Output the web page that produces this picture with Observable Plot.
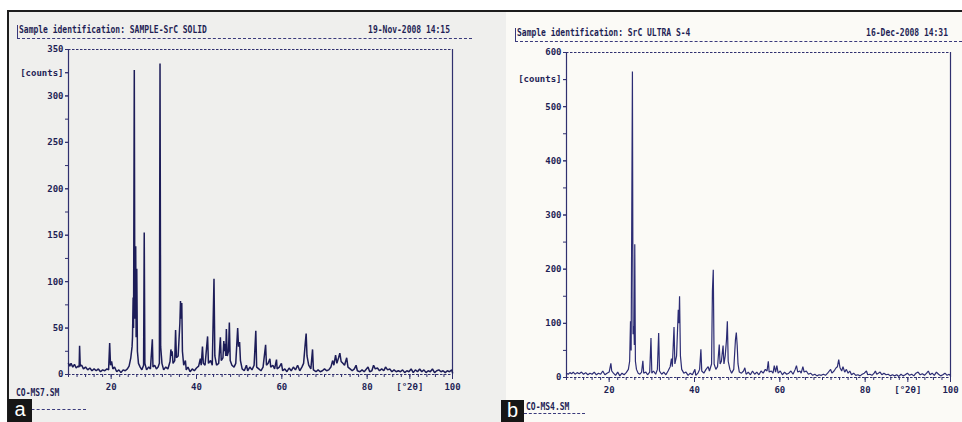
<!DOCTYPE html>
<html>
<head>
<meta charset="utf-8">
<script src="https://cdn.jsdelivr.net/npm/d3@7"></script>
<script src="https://cdn.jsdelivr.net/npm/@observablehq/plot@0.6"></script>
<style>
  html, body { margin: 0; padding: 0; background: #ffffff; }
  #wrap { position: relative; width: 962px; height: 422px; overflow: hidden; background: #ffffff; }
  .abs { position: absolute; }
  .mono { font-family: "DejaVu Sans Mono", monospace; font-weight: bold; font-size: 8px; color: #1f1f55; white-space: nowrap; line-height: 8px; transform-origin: left center; transform: scaleY(1.25); }
  .monoR { transform-origin: right center; }
  .dash { position: absolute; height: 0; border-top: 1px dashed #3a3a7c; }
  .vbar { position: absolute; width: 1px; background: #3a3a7c; }
  .tag { position: absolute; background: #161616; color: #ffffff; font-family: "Liberation Sans", Arial, sans-serif; font-size: 20px; line-height: 20px; text-align: center; }
  svg { position: absolute; top: 0; }
</style>
</head>
<body>
<div id="wrap">
  <div class="abs" style="left:8px;top:11px;width:498px;height:411px;background:#efefed"></div>
  <div class="abs" style="left:506px;top:11px;width:456px;height:411px;background:#fbfaf6"></div>
  <div class="abs" style="left:8px;top:10px;width:954px;height:2px;background:#1d1d1d"></div>
  <div class="abs" style="left:7px;top:10px;width:2px;height:412px;background:#1d1d1d"></div>
</div>
<script>
// ---------- data: panel a (SAMPLE-SrC SOLID) ----------
const aTheta = [10.0,10.3,10.6,11.0,11.4,11.8,12.2,12.5,12.6,12.75,13.1,13.5,14.0,14.5,15.0,15.5,16.0,16.5,17.0,17.5,18.0,18.5,19.0,19.4,19.65,19.85,20.1,20.4,20.8,21.3,21.8,22.3,22.8,23.3,23.8,24.2,24.6,24.9,25.0,25.15,25.25,25.42,25.55,25.75,25.85,26.0,26.15,26.4,26.8,27.2,27.6,27.75,27.9,28.3,28.8,29.2,29.65,29.8,30.2,30.6,31.0,31.3,31.45,31.6,31.9,32.3,32.8,33.3,33.8,34.0,34.15,34.3,34.5,34.9,35.1,35.3,35.7,36.1,36.25,36.4,36.55,36.7,37.0,37.4,37.6,38.0,38.5,39.0,39.5,40.0,40.5,40.9,41.1,41.4,41.6,42.0,42.6,42.8,43.3,43.7,44.1,44.3,44.7,45.2,45.6,45.8,46.2,46.4,46.55,46.7,46.85,47.0,47.2,47.5,47.7,47.9,48.3,48.8,49.2,49.65,49.85,50.1,50.3,50.7,51.2,51.7,52.0,52.5,53.0,53.5,53.9,54.1,54.6,55.1,55.6,56.2,56.4,56.8,57.2,57.4,57.9,58.3,58.75,58.9,59.4,59.9,60.2,60.7,61.2,61.7,62.2,62.7,63.2,63.7,64.2,64.7,65.1,65.5,65.7,65.9,66.3,66.8,67.2,67.4,68.0,68.5,69.0,69.5,70.0,70.5,71.0,71.5,71.9,72.2,72.6,72.9,73.3,73.6,73.9,74.3,74.7,75.2,75.5,76.0,76.5,77.0,77.4,77.7,78.3,78.8,79.3,80.2,80.6,81.1,81.5,81.9,82.4,82.9,83.4,83.9,84.3,84.8,85.3,85.8,86.3,86.8,87.3,87.8,88.3,88.8,89.3,89.8,90.3,90.8,91.3,91.8,92.3,92.8,93.3,93.8,94.3,94.8,95.3,95.8,96.3,96.8,97.3,97.8,98.3,98.8,99.3,99.8,100.0];
const aCounts = [12,9,12,8,11,7,9,8,31,9,10,6,8,5,7,4,6,4,6,3,5,4,6,5,34,10,14,6,8,3,5,2,5,4,6,9,18,30,40,83,50,328,60,138,40,114,25,12,8,5,10,153,12,5,8,6,38,8,10,6,8,12,335,30,12,5,8,6,14,27,20,25,12,15,48,18,20,55,79,60,77,25,10,15,5,8,3,6,4,7,9,17,10,30,12,10,41,12,15,10,103,20,10,12,40,15,18,36,25,33,20,49,20,25,56,15,10,8,12,50,30,35,15,6,4,10,4,8,5,10,47,8,6,4,8,32,10,12,17,8,10,6,16,6,8,12,4,6,3,7,4,8,5,10,4,8,12,34,44,20,10,6,27,5,3,5,3,4,6,4,5,8,15,10,21,12,18,23,14,12,10,18,8,6,4,6,10,4,3,5,3,8,3,4,10,6,7,4,6,4,8,5,6,3,5,3,4,3,5,2,4,3,6,2,5,3,6,3,5,2,4,3,6,2,4,5,3,4,2,4,3,5,2];

// ---------- data: panel b (SrC ULTRA S-4) ----------
const bTheta = [10.0,10.4,10.8,11.2,11.6,12.0,12.5,13.0,13.5,14.0,14.5,15.0,15.5,16.0,16.5,17.0,17.5,18.0,18.5,19.0,19.5,20.0,20.4,20.6,21.0,21.5,22.0,22.5,23.0,23.5,24.0,24.5,24.8,25.0,25.15,25.45,25.6,25.8,25.9,26.0,26.15,26.4,26.8,27.2,27.6,27.9,28.1,28.6,29.0,29.5,29.8,30.0,30.4,30.9,31.3,31.6,31.8,32.3,32.8,33.3,33.8,34.3,34.6,34.8,35.2,35.4,35.8,36.2,36.35,36.5,36.7,37.0,37.5,38.0,38.5,39.0,39.5,40.1,40.3,40.8,41.2,41.5,41.7,42.2,42.7,43.2,43.5,44.0,44.2,44.4,44.6,45.0,45.4,45.8,46.0,46.3,46.7,46.9,47.2,47.5,47.7,47.9,48.3,48.7,49.2,49.6,49.8,50.0,50.2,50.5,51.0,51.5,51.8,52.1,52.6,53.1,53.6,54.1,54.6,55.1,55.6,56.1,56.6,57.0,57.3,57.5,58.0,58.4,58.7,59.0,59.3,59.6,60.1,60.6,61.1,61.6,62.1,62.6,63.1,63.6,63.9,64.2,64.7,65.0,65.4,65.7,66.2,66.7,67.2,67.7,68.2,68.7,69.2,69.7,70.2,70.7,71.2,71.6,71.9,72.2,72.7,73.2,73.5,73.8,74.1,74.5,74.8,75.2,75.6,76.0,76.4,76.8,77.3,77.8,78.3,78.8,79.3,79.8,80.3,80.6,81.1,81.6,82.1,82.4,82.7,83.1,83.5,83.9,84.4,84.9,85.4,85.9,86.4,86.9,87.4,87.9,88.4,88.9,89.4,89.9,90.4,90.9,91.4,91.9,92.4,92.9,93.4,93.9,94.4,94.8,95.2,95.7,96.2,96.7,97.2,97.7,98.2,98.7,99.2,99.7,100.0];
const bCounts = [8,6,9,7,10,6,9,7,10,6,9,5,8,6,10,5,8,6,12,5,8,10,26,12,8,4,10,3,8,5,9,15,30,104,50,565,80,95,60,246,30,15,8,6,10,31,8,10,5,10,73,8,12,6,15,82,12,6,10,5,12,20,35,20,93,25,40,125,100,150,40,15,8,10,4,8,5,15,4,8,15,52,12,8,15,20,12,25,160,199,25,15,20,61,25,30,59,25,40,70,104,30,15,8,15,70,83,60,25,10,8,12,18,6,10,5,12,6,10,5,12,8,15,12,30,10,12,8,22,10,22,8,12,5,10,6,8,12,6,15,22,10,12,8,20,10,12,6,8,4,6,3,5,4,6,4,8,12,15,8,12,18,20,33,18,12,20,10,15,8,12,5,8,4,5,3,6,8,12,5,6,4,8,12,6,8,10,5,8,5,6,3,5,3,5,2,6,3,5,8,4,6,3,8,10,5,7,4,8,12,5,8,4,10,6,3,5,8,4,6,3];

// ---------- axes / labels ----------
const xMajor = [20, 40, 60, 80, 100];
const xUnitAt = 90;
const xUnitLabel = "[°2θ]";
const yMajorA = [0, 50, 100, 150, 200, 250, 300, 350];
const yMajorB = [0, 100, 200, 300, 400, 500, 600];
const yUnitAtA = 325, yUnitAtB = 550;
const yUnitLabel = "[counts]";
const headerA = "Sample identification: SAMPLE-SrC SOLID";
const dateA = "19-Nov-2008 14:15";
const headerB = "Sample identification: SrC ULTRA S-4";
const dateB = "16-Dec-2008 14:31";
const footerA = "CO-MS7.SM";
const footerB = "CO-MS4.SM";
const panelTags = ["a", "b"];

const axisColor = "#30306f";
const textColor = "#1f1f55";

function panel({theta, counts, yMax, yMajor, yMinorStep, yUnitAt, mL, mR, mT, mB, lineColor, lineWidth}) {
  const data = theta.map((t, i) => ({t, c: counts[i]}));
  const yMinor = d3.range(0, yMax + 1, yMinorStep);
  const xMinor = d3.range(10, 101, 2);
  return Plot.plot({
    width: 481, height: 422,
    marginLeft: mL, marginRight: mR, marginTop: mT, marginBottom: mB,
    x: {domain: [10, 100]},
    y: {domain: [0, yMax]},
    style: {background: "transparent", color: axisColor, fontFamily: "'DejaVu Sans Mono', monospace", fontSize: "9px", fontWeight: "bold", overflow: "visible"},
    marks: [
      Plot.ruleY([yMax], {stroke: axisColor, strokeWidth: 1, strokeDasharray: "2.5,1.5"}),
      Plot.ruleY([0], {stroke: axisColor, strokeWidth: 1, strokeDasharray: "2.5,1.5"}),
      Plot.ruleX([10], {stroke: axisColor, strokeWidth: 1.2}),
      Plot.ruleX([100], {stroke: axisColor, strokeWidth: 1.2}),
      Plot.axisY(yMinor, {tickSize: 3, tickFormat: () => "", label: null}),
      Plot.axisY([...yMajor, yUnitAt], {tickSize: 3, tickPadding: 2, label: null, fill: textColor,
        tickFormat: d => d === yUnitAt ? yUnitLabel : String(d)}),
      Plot.axisX(xMinor, {tickSize: 3, tickFormat: () => "", label: null}),
      Plot.axisX([...xMajor, xUnitAt], {tickSize: 5, tickPadding: 4, label: null, fill: textColor,
        tickFormat: d => d === xUnitAt ? xUnitLabel : String(d)}),
      Plot.line(data, {x: "t", y: "c", stroke: lineColor, strokeWidth: lineWidth, strokeLinejoin: "miter"})
    ]
  });
}

const wrap = document.getElementById("wrap");

const svgA = panel({theta: aTheta, counts: aCounts, yMax: 350, yMajor: yMajorA, yMinorStep: 25, yUnitAt: yUnitAtA,
  mL: 68, mR: 29, mT: 49, mB: 48, lineColor: "#1c1c58", lineWidth: 1.5});
svgA.style.left = "0px";
wrap.appendChild(svgA);

const svgB = panel({theta: bTheta, counts: bCounts, yMax: 600, yMajor: yMajorB, yMinorStep: 50, yUnitAt: yUnitAtB,
  mL: 85, mR: 12, mT: 52, mB: 45, lineColor: "#2c2c74", lineWidth: 1.2});
svgB.style.left = "481px";
wrap.appendChild(svgB);

function add(html) { wrap.insertAdjacentHTML("beforeend", html); }

// headers
add(`<div class="abs mono" style="left:19px;top:26px">${headerA}</div>`);
add(`<div class="abs mono monoR" style="right:${962-450}px;top:26px">${dateA}</div>`);
add(`<div class="dash" style="left:17px;top:38px;width:455px"></div>`);
add(`<div class="vbar" style="left:17px;top:25px;height:13px"></div>`);

add(`<div class="abs mono" style="left:517px;top:29px">${headerB}</div>`);
add(`<div class="abs mono monoR" style="right:${962-948}px;top:29px">${dateB}</div>`);
add(`<div class="dash" style="left:515px;top:41px;width:447px"></div>`);
add(`<div class="vbar" style="left:515px;top:28px;height:13px"></div>`);

// footers
add(`<div class="abs mono" style="left:16px;top:389px">${footerA}</div>`);
add(`<div class="dash" style="left:16px;top:409px;width:70px"></div>`);
add(`<div class="abs mono" style="left:526px;top:403px">${footerB}</div>`);
add(`<div class="dash" style="left:524px;top:413px;width:61px"></div>`);

// panel tags
add(`<div class="tag" style="left:8px;top:399px;width:24px;height:23px;line-height:21px">${panelTags[0]}</div>`);
add(`<div class="tag" style="left:501px;top:400px;width:23px;height:22px;line-height:20px">${panelTags[1]}</div>`);
</script>
</body>
</html>
